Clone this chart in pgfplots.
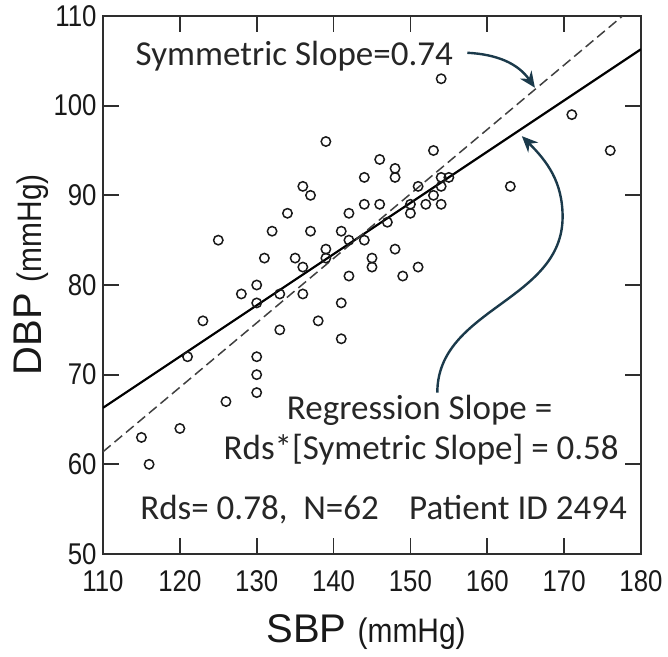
\documentclass[border=0pt]{standalone}
\usepackage{fontspec}
\setmainfont{Liberation Sans}
\newfontfamily\narrowsf[FakeStretch=0.86]{Liberation Sans}
\newfontfamily\unitsf[FakeStretch=0.88]{Liberation Sans}
\newfontfamily\notefont{Carlito}
\usepackage{pgfplots}
\pgfplotsset{compat=1.18}
\usetikzlibrary{arrows.meta}
\definecolor{arrowblue}{HTML}{1B3A4B}
\definecolor{axisgray}{HTML}{2E2E2E}

\begin{document}
\begin{tikzpicture}
\begin{axis}[
  width=269pt, height=269pt, scale only axis,
  xmin=110, xmax=180, ymin=50, ymax=110,
  xtick={110,120,...,180}, ytick={50,60,...,110},
  tick align=inside, major tick length=8pt,
  axis line style={line width=1pt, axisgray},
  every tick/.style={line width=0.9pt, axisgray},
  tick label style={font=\narrowsf\fontsize{15}{16}\selectfont, text=black!90, inner sep=0pt,
    /pgf/number format/assume math mode=true},
  xticklabel style={yshift=-8pt},
  yticklabel style={xshift=-3pt},
  xlabel={SBP {\unitsf\fontsize{17}{18}\selectfont(mmHg)}},
  xlabel style={font=\fontsize{20}{21}\selectfont, text=black!90,
    at={(axis description cs:0.489,0)}, anchor=base, yshift=-44.5pt},
  ylabel={DBP {\unitsf\fontsize{17}{18}\selectfont(mmHg)}},
  ylabel style={font=\fontsize{20}{21}\selectfont, text=black!90,
    at={([xshift=-30.5pt]axis description cs:0,0.519)}, anchor=base},
]
% regression line (slope 0.58) and symmetric line (slope 0.74)
\addplot[black, line width=1.1pt] coordinates {(110,66.3) (180,106.3)};
\addplot[black!75, line width=0.75pt, dash pattern=on 5pt off 2.5pt] coordinates {(110,61.4) (177.6,110)};

\addplot[only marks, mark=o, mark size=2.35pt, mark options={line width=0.75pt, black!90}] coordinates {
(139,96) (146,94) (144,92) (136,91) (137,90) (134,88) (142,88) (144,89)
(146,89) (125,85) (132,86) (137,86) (141,86) (142,85) (144,85) (131,83)
(135,83) (136,82) (139,84) (139,83) (145,83) (145,82) (142,81) (130,80)
(128,79) (154,103) (171,99) (176,95) (153,95) (148,93) (148,92) (154,92)
(155,92) (154,91) (151,91) (153,90) (150,89) (152,89) (154,89) (150,88)
(147,87) (148,84) (151,82) (149,81) (163,91) (133,79) (136,79) (130,78)
(141,78) (123,76) (138,76) (133,75) (141,74) (121,72) (130,72) (130,70)
(130,68) (126,67) (120,64) (115,63) (116,60)
};

\node[anchor=base west, inner sep=0pt, text=black!85, font=\notefont\fontsize{17.5}{18}\selectfont]
  at (axis cs:114.2,104.5) {Symmetric Slope=0.74};
\node[anchor=base, inner sep=0pt, text=black!85, font=\notefont\fontsize{17.5}{18}\selectfont]
  at (axis cs:151.2,65.0) {Regression Slope =};
\node[anchor=base, inner sep=0pt, text=black!85, font=\notefont\fontsize{17.5}{18}\selectfont]
  at (axis cs:151.4,60.5) {Rds*[Symetric Slope] = 0.58};
\node[anchor=base west, inner sep=0pt, text=black!85, font=\notefont\fontsize{17.5}{18}\selectfont]
  at (axis cs:114.8,53.9) {Rds= 0.78,\ \ N=62};
\node[anchor=base east, inner sep=0pt, text=black!85, font=\notefont\fontsize{17.5}{18}\selectfont]
  at (axis cs:178.2,53.9) {Patient ID 2494};

\draw[arrowblue, line width=1.2pt, -{Stealth[length=8pt,width=7pt]}]
  (axis cs:157.4,105.9) to[out=-3,in=125] (axis cs:166.2,102.0);
\draw[arrowblue, line width=1.2pt, -{Stealth[length=8pt,width=7pt]}]
  (axis cs:153.5,68) to[out=90,in=-90] (axis cs:169.8,87.6) to[out=90,in=-45] (axis cs:164.5,96.6);
\end{axis}
\path (current axis.south west) ++(-51.5pt,-47.5pt);
\path (current axis.north east) ++(13.5pt,8pt);
\end{tikzpicture}
\end{document}
